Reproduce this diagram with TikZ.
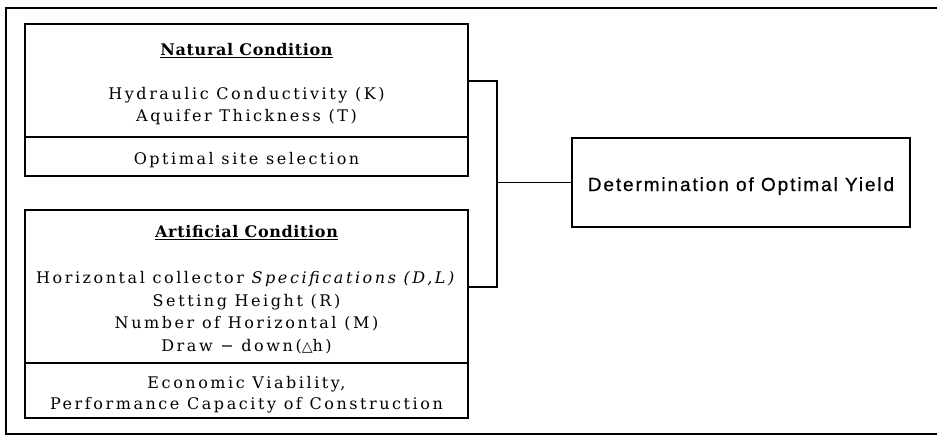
\documentclass[tikz,border=0pt]{standalone}
\usepackage{fontspec}
\setmainfont{DejaVu Serif}
\newfontfamily\bodyf{DejaVu Serif}[LetterSpace=16]
\newfontfamily\titlef{DejaVu Serif}[LetterSpace=4]
\newfontfamily\resf{Liberation Sans}[LetterSpace=10,FakeBold=0.6]
\newfontfamily\symf{DejaVu Sans}
\newcommand\myul[1]{\setbox0\hbox{#1}\rlap{\raisebox{-3pt}{\rule{\wd0}{1.3pt}}}\box0}
\begin{document}
\begin{tikzpicture}[x=1pt,y=-1pt,
  box/.style={draw, line width=1.3pt, inner sep=0pt},
  frame/.style={line width=1.6pt},
  conn/.style={line width=1.3pt},
  txt/.style={anchor=base, inner sep=0pt, font=\fontsize{16}{22}\selectfont\bodyf},
  ttl/.style={anchor=base, inner sep=0pt, font=\fontsize{16}{22}\selectfont\titlef\bfseries},
  rtxt/.style={anchor=base, inner sep=0pt, font=\fontsize{19}{22}\selectfont\resf}]
\useasboundingbox (0,0) rectangle (937,437);
% outer frame
\draw[frame] (937,8) -- (6,8) -- (6,434) -- (937,434);
% natural condition
\node[box, minimum width=443pt, minimum height=113pt] (nat) at (246.5,80.5) {};
\node[box, minimum width=443pt, minimum height=39pt] (natsel) at (246.5,156.5) {};
\node[ttl] (natT) at (246.5,55) {\myul{Natural Condition}};
\node[txt] (natK) at (246.5,99) {Hydraulic Conductivity (K)};
\node[txt] (natTh) at (246.5,121) {Aquifer Thickness (T)};
\node[txt] (natS) at (246.5,164) {Optimal site selection};
% artificial condition
\node[box, minimum width=443pt, minimum height=153pt] (art) at (246.5,286.5) {};
\node[box, minimum width=443pt, minimum height=55pt] (arteco) at (246.5,390.5) {};
\node[ttl] (artT) at (246.5,237) {\myul{Artificial Condition}};
\node[txt] (artD) at (246.5,283) {Horizontal collector \textit{Specifications (D,L)}};
\node[txt] (artR) at (246.5,306) {Setting Height (R)};
\node[txt] (artM) at (246.5,328) {Number of Horizontal (M)};
\node[txt] (artH) at (246.5,351) {Draw − down({\symf\fontsize{14}{14}\selectfont △}h)};
\node[txt] (artE) at (246.5,388) {Economic Viability,};
\node[txt] (artP) at (246.5,409) {Performance Capacity of Construction};
% result
\node[box, minimum width=338pt, minimum height=89pt] (res) at (741,182.5) {};
\node[rtxt] (resT) at (741,191) {Determination of Optimal Yield};
% connectors
\coordinate (busT) at (497,81);
\coordinate (busB) at (497,287);
\coordinate (bus) at (497,182.5);
\draw[conn] (nat.east |- busT) -- (busT) -- (busB) -- (art.east |- busB);
\draw[conn] (bus) -- (res.west);
\end{tikzpicture}
\end{document}
